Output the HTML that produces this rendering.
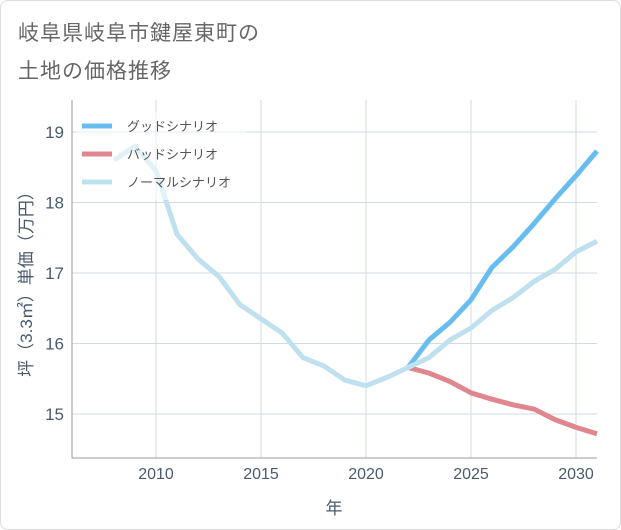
<!DOCTYPE html>
<html><head><meta charset="utf-8"><style>
body{margin:0;background:#fff;font-family:"Liberation Sans","Noto Sans CJK JP",sans-serif;}
#wrap{position:relative;width:619px;height:528px;border:1px solid #ddd;border-radius:8px;overflow:hidden;}
.title{position:absolute;left:17px;font-size:21px;color:#666;letter-spacing:1px;}
</style></head><body>
<div id="wrap">
<div class="title" style="top:16px">岐阜県岐阜市鍵屋東町の</div>
<div class="title" style="top:54px">土地の価格推移</div>
<svg id="chart" width="621" height="530" style="position:absolute;left:-1px;top:-1px"></svg>
</div>
<script>
const years=[2008,2009,2010,2011,2012,2013,2014,2015,2016,2017,2018,2019,2020,2021,2022,2023,2024,2025,2026,2027,2028,2029,2030,2031];
const normal=[18.6,18.8,18.45,17.55,17.2,16.95,16.55,16.35,16.15,15.8,15.68,15.48,15.4,15.52,15.66,15.8,16.05,16.22,16.47,16.65,16.88,17.05,17.3,17.45];
const goodYears=[2022,2023,2024,2025,2026,2027,2028,2029,2030,2031];
const good=[15.66,16.05,16.3,16.62,17.08,17.37,17.7,18.05,18.38,18.73];
const bad=[15.66,15.58,15.46,15.3,15.21,15.13,15.07,14.92,14.81,14.72];
const xTicks=[2010,2015,2020,2025,2030];
const yTicks=[15,16,17,18,19];
const L=72,R=597,T=100,B=458;
const x=v=>L+(v-2006)*(R-L)/25;
const y=v=>414-(v-15)*70.5;
const svg=document.getElementById('chart');
const NS='http://www.w3.org/2000/svg';
function mk(t,a){const e=document.createElementNS(NS,t);for(const k in a)e.setAttribute(k,a[k]);svg.appendChild(e);return e;}
xTicks.forEach(v=>{const g=mk('line',{x1:x(v),x2:x(v),y1:T,y2:B,stroke:'#d0dbe6','stroke-width':1});


const t=mk('text',{x:x(v),y:479,'text-anchor':'middle','font-size':16,fill:'#4a5a6e'});t.textContent=v;

});
yTicks.forEach(v=>{const g=mk('line',{x1:L,x2:R,y1:y(v),y2:y(v),stroke:'#d0dbe6','stroke-width':1});


const t=mk('text',{x:64,y:y(v)+6,'text-anchor':'end','font-size':17,fill:'#4a5a6e'});t.textContent=v;

});
const ax=mk('polyline',{points:`${L},${T} ${L},${B} ${R},${B}`,fill:'none',stroke:'#999','stroke-width':1});


function line(xs,vs,c,n){const p=mk('polyline',{points:xs.map((v,i)=>x(v)+','+y(vs[i])).join(' '),fill:'none',stroke:c,'stroke-width':5,'stroke-linejoin':'round'});

}
line(goodYears,bad,'#e0868e','bad-scenario-line');
line(goodYears,good,'#68bdf0','good-scenario-line');
line(years,normal,'#bfe0ee','normal-scenario-line');
const lg=mk('rect',{x:76,y:112,width:170,height:88,fill:'rgba(255,255,255,0.55)'});


[['グッドシナリオ','#68bdf0'],['バッドシナリオ','#e0868e'],['ノーマルシナリオ','#bfe0ee']].forEach((d,i)=>{
const yy=126+i*28;
const s=mk('line',{x1:82,x2:112,y1:yy,y2:yy,stroke:d[1],'stroke-width':5});


const t=mk('text',{x:127,y:yy+5,'font-size':13,fill:'#555'});t.textContent=d[0];

});
const xt=mk('text',{x:334,y:514,'text-anchor':'middle','font-size':17,fill:'#4a5a6e'});xt.textContent='年';


const yt=mk('text',{x:0,y:0,'text-anchor':'middle','font-size':17,fill:'#4a5a6e',transform:'translate(32,280) rotate(-90)'});yt.textContent='坪（3.3㎡）単価（万円）';


</script>
</body></html>
